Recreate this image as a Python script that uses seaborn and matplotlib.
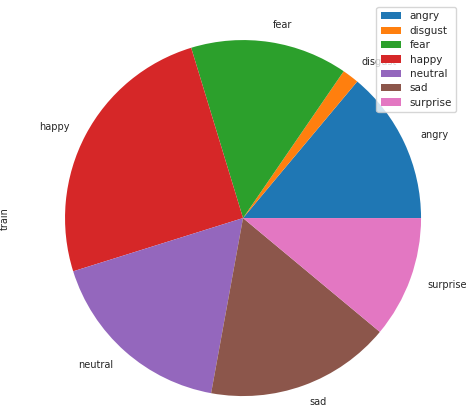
import matplotlib
matplotlib.use("Agg")
import matplotlib.pyplot as plt
import seaborn as sns

# FER2013 训练集各类别数量
emotions = ["angry", "disgust", "fear", "happy", "neutral", "sad", "surprise"]
train_counts = [3995, 436, 4097, 7215, 4965, 4830, 3171]

sns.set_style("white")
plt.rcParams['font.family'] = ['DejaVu Sans']

colors = sns.color_palette("tab10", len(emotions))

fig = plt.figure(figsize=(4.71, 4.13), dpi=100)
ax = fig.add_axes([0.138, 0.041, 0.756, 0.862])

wedges, texts = ax.pie(train_counts, labels=emotions, colors=colors,
                       textprops={'fontsize': 7},
                       wedgeprops={'linewidth': 0})
ax.set_xlim(-1, 1)
ax.set_ylim(-1, 1)
ax.set_aspect('equal')
ax.set_ylabel("train", fontsize=7)
ax.yaxis.set_label_coords(-0.155, 0.5)

ax.legend(wedges, emotions, loc='upper right', fontsize=7.5,
          bbox_to_anchor=(0.98, 0.995), bbox_transform=fig.transFigure,
          handlelength=2.0, labelspacing=0.42, borderpad=0.4)

fig.savefig("out.png", dpi=100)
